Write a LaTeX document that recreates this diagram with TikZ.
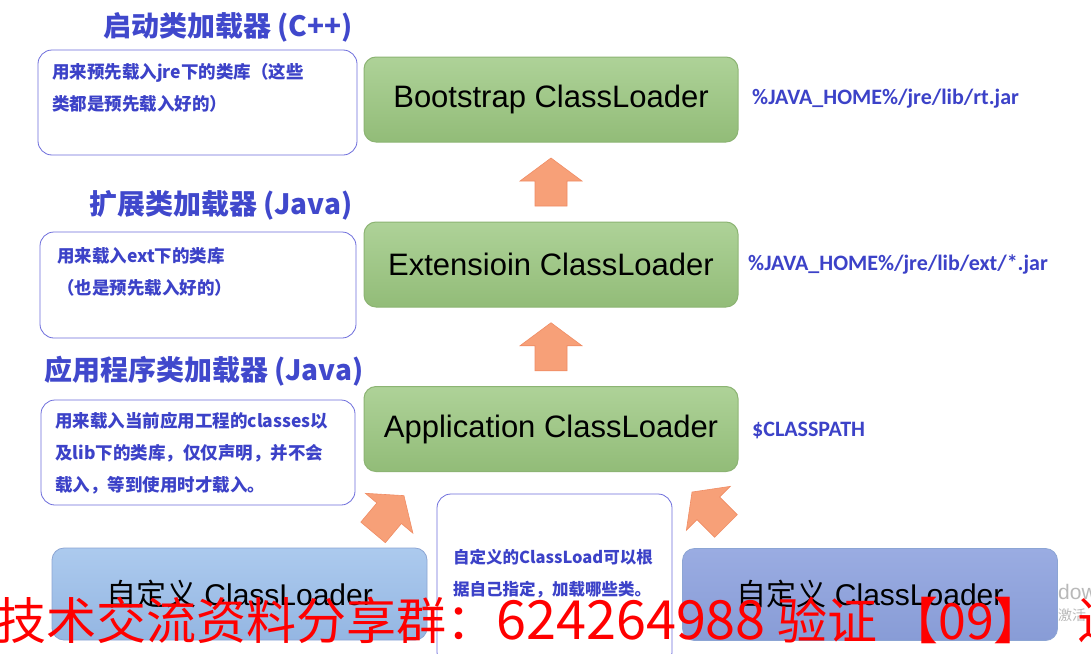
\documentclass[tikz,border=0pt]{standalone}
\usepackage{fontspec}
\setmainfont{Liberation Sans}
\newfontfamily\cjk{Noto Sans CJK SC}
\newfontfamily\carl{Carlito}
\usetikzlibrary{calc}
\definecolor{tblue}{RGB}{64,72,204}
\definecolor{nblue}{RGB}{60,66,200}
\definecolor{bline}{RGB}{110,110,220}
\definecolor{gtop}{RGB}{174,210,152}
\definecolor{gbot}{RGB}{146,188,120}
\definecolor{gline}{RGB}{140,180,115}
\definecolor{ofill}{RGB}{247,160,120}
\definecolor{oline}{RGB}{240,140,100}
\definecolor{ltop}{RGB}{172,202,238}
\definecolor{lbot}{RGB}{148,182,226}
\definecolor{rtop}{RGB}{154,172,226}
\definecolor{rbot}{RGB}{136,156,214}
\definecolor{cline}{RGB}{140,165,212}
\definecolor{wred}{RGB}{255,0,0}
\tikzset{
 greenbox/.style={draw=gline, line width=1pt, rounded corners=12pt, top color=gtop, bottom color=gbot, minimum width=374pt, minimum height=85pt, font=\fontsize{31}{31}\selectfont, text=black, inner sep=0pt},
 notebox/.style={draw=bline, line width=0.8pt, rounded corners=14pt, fill=white, inner sep=0pt},
 notetext/.style={anchor=north west, align=left, text=nblue, font=\cjk\bfseries\fontsize{17.5}{32}\selectfont, inner sep=0pt},
 titletext/.style={text=tblue, font=\cjk\bfseries\fontsize{28}{28}\selectfont, inner sep=0pt},
 pathlbl/.style={anchor=west, text=nblue, font=\carl\bfseries\fontsize{22}{22}\selectfont, inner sep=0pt},
 custbox/.style={draw=cline, line width=0.8pt, rounded corners=12pt, minimum width=375pt, minimum height=92pt, inner sep=0pt, font=\fontsize{30}{30}\selectfont},
 blockarrow/.pic={\filldraw[fill=ofill, draw=oline, line width=0.6pt] (0,-24) -- (31,-1) -- (16,-1) -- (16,24) -- (-16,24) -- (-16,-1) -- (-31,-1) -- cycle;},
}
\begin{document}
\begin{tikzpicture}[x=1pt,y=-1pt]
\useasboundingbox[fill=white] (0,0) rectangle (1091,653);
% titles
\node[titletext] (t1) at (228,27) {启动类加载器 (C++)};
\node[titletext] (t2) at (221,205) {扩展类加载器 (Java)};
\node[titletext] (t3) at (204,371) {应用程序类加载器 (Java)};
% note boxes
\node[notebox, minimum width=319pt, minimum height=105pt] (n1) at (197.5,102.5) {};
\node[notetext] (n1t) at (52,63) {用来预先载入jre下的类库（这些\\类都是预先载入好的）};
\node[notebox, minimum width=316pt, minimum height=106pt] (n2) at (198,285) {};
\node[notetext] (n2t) at (57,247) {用来载入ext下的类库\\（也是预先载入好的）};
\node[notebox, minimum width=314pt, minimum height=105pt] (n3) at (198,452.5) {};
\node[notetext] (n3t) at (55,412) {用来载入当前应用工程的classes以\\及lib下的类库，仅仅声明，并不会\\载入，等到使用时才载入。};
% loaders
\node[greenbox] (boot) at (551,99.5) {Bootstrap ClassLoader};
\node[greenbox] (ext) at (551,264.5) {Extensioin ClassLoader};
\node[greenbox] (app) at (551,429) {Application ClassLoader};
\node[pathlbl] (p1) at (752,99) {\%JAVA\_HOME\%/jre/lib/rt.jar};
\node[pathlbl] (p2) at (748,264) {\%JAVA\_HOME\%/jre/lib/ext/*.jar};
\node[pathlbl] (p3) at (752,430) {\$CLASSPATH};
% custom loaders
\node[custbox, top color=ltop, bottom color=lbot] (c1) at (239.5,594) {{\cjk 自定义} ClassLoader};
\node[custbox, top color=rtop, bottom color=rbot] (c2) at (870,594.5) {{\cjk 自定义} ClassLoader};
\node[notebox, minimum width=235pt, minimum height=172pt] (mid) at (554.5,580) {};
\node[notetext, font=\cjk\bfseries\fontsize{16.5}{32}\selectfont] (midt) at (453,549) {自定义的ClassLoad可以根\\据自己指定，加载哪些类。};
% block arrows
\coordinate (a1) at ($(boot.south)!0.5!(ext.north)$);
\coordinate (a2) at ($(ext.south)!0.5!(app.north)$);
\coordinate (a3) at (388.5,514);
\coordinate (a4) at (709,509);
\pic at (a1) {blockarrow};
\pic at (a2) {blockarrow};
\pic[rotate=-40] at (a3) {blockarrow};
\pic[rotate=45] at (a4) {blockarrow};
% overlays
\node[anchor=west, text=gray!55, font=\fontsize{21}{21}\selectfont, inner sep=0pt] (act1) at (1058,592) {dows};
\node[anchor=west, text=gray!55, font=\cjk\fontsize{14}{14}\selectfont, inner sep=0pt] (act2) at (1058,615) {激活};
\node[anchor=west, text=wred, font=\cjk\fontsize{50}{50}\selectfont, inner sep=0pt] (wm) at (-4,620) {技术交流资料分享群：{\fontsize{54}{54}\selectfont 624264988} 验证 【09】\hspace{34pt}进};
\end{tikzpicture}
\end{document}
